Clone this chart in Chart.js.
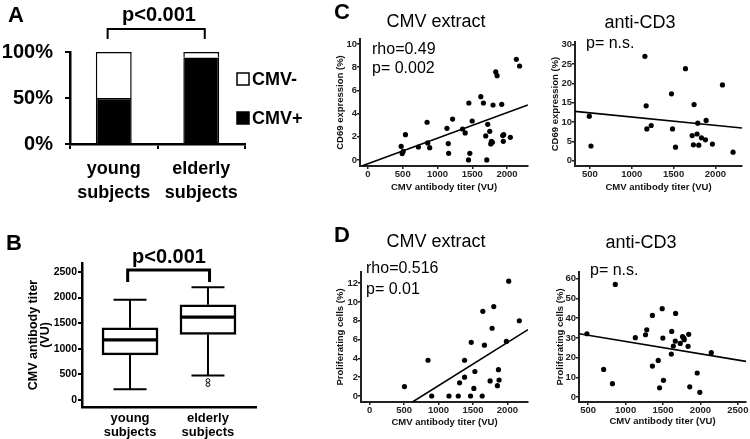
<!DOCTYPE html>
<html>
<head>
<meta charset="utf-8">
<script src="https://cdn.jsdelivr.net/npm/chart.js@4/dist/chart.umd.min.js"></script>
<style>
body{margin:0;background:#fff;width:750px;height:439px;overflow:hidden;position:relative;font-family:"Liberation Sans",Arial,sans-serif;color:#000}
canvas{position:absolute;left:0;top:0}
.c{position:absolute;transform:translate(-50%,-50%);white-space:nowrap;line-height:1}
.l{position:absolute;transform:translateY(-50%);white-space:nowrap;line-height:1}
.big{font-weight:bold;font-size:22px}
.p{font-weight:bold;font-size:20px}
.ttl{font-size:18px}
.r{font-size:16px}
</style>
</head>
<body>
<canvas id="chA" width="750" height="439"></canvas>
<canvas id="chB" width="750" height="439"></canvas>
<canvas id="chC1" width="750" height="439"></canvas>
<canvas id="chC2" width="750" height="439"></canvas>
<canvas id="chD1" width="750" height="439"></canvas>
<canvas id="chD2" width="750" height="439"></canvas>

<div class="c big" style="left:16px;top:15px">A</div>
<div class="c p" style="left:159px;top:14px">p&lt;0.001</div>
<div class="c big" style="left:14px;top:243px">B</div>
<div class="c p" style="left:169px;top:256px">p&lt;0.001</div>
<div class="c big" style="left:342px;top:12px">C</div>
<div class="c ttl" style="left:436px;top:21px">CMV extract</div>
<div class="c ttl" style="left:640px;top:22px">anti-CD3</div>
<div class="l r" style="left:372px;top:49px">rho=0.49</div>
<div class="l r" style="left:372px;top:68px">p= 0.002</div>
<div class="l r" style="left:586px;top:43px">p= n.s.</div>
<div class="c big" style="left:342px;top:235px">D</div>
<div class="c ttl" style="left:436px;top:241px">CMV extract</div>
<div class="c ttl" style="left:641px;top:242px">anti-CD3</div>
<div class="l r" style="left:366px;top:268px">rho=0.516</div>
<div class="l r" style="left:366px;top:289px">p= 0.01</div>
<div class="l r" style="left:590px;top:270px">p= n.s.</div>

<script>
// panel A: serostatus share
const groups = [['young', 'subjects'], ['elderly', 'subjects']];
const cmvPos = [50, 94];
const cmvNeg = [50, 6];
const pctTicks = [0, 50, 100];

// panel B: antibody titer box plots
const titerTicks = [0, 500, 1000, 1500, 2000, 2500];
const boxMin = [210, 480];
const boxQ1 = [880, 1280];
const boxMed = [1175, 1620];
const boxQ3 = [1410, 1860];
const boxMax = [1960, 2200];
const outGroup = [1, 1];
const outTiter = [380, 300];

// panel C: CD69 vs titer
const cExtTiter = [477, 492, 506, 539, 725, 850, 859, 888, 1136, 1155, 1160, 1217, 1360, 1398, 1451, 1446, 1465, 1499, 1623, 1661, 1694, 1709, 1723, 1752, 1766, 1776, 1790, 1799, 1838, 1857, 1924, 1938, 1952, 1947, 2048, 2134, 2181];
const cExtCd69 = [1.18, 0.55, 0.75, 2.18, 1.12, 3.25, 1.47, 1.06, 2.73, 1.41, 0.57, 3.53, 2.67, 2.33, 4.91, 0, 0.57, 3.36, 5.46, 4.91, 2.07, 0, 3.07, 2.47, 1.38, 1.61, 1.52, 4.74, 7.59, 7.27, 4.8, 2.1, 2.18, 1.61, 1.95, 8.68, 8.1];
const cExtFitX = [-80, 2300];
const cExtFitY = [-0.5, 4.74];
const cCd3Titer = [492, 512, 1157, 1172, 1180, 1232, 1475, 1487, 1523, 1642, 1745, 1737, 1722, 1781, 1789, 1801, 1833, 1881, 1889, 1964, 2084, 2211];
const cCd3Cd69 = [11.5, 3.8, 27.0, 14.2, 8.2, 9.1, 17.3, 8.2, 3.5, 23.8, 14.5, 4.1, 6.5, 6.9, 9.7, 4.0, 5.9, 5.4, 10.4, 4.3, 19.6, 2.2];
const cCd3FitX = [321, 2318];
const cCd3FitY = [12.76, 8.45];

// panel D: proliferation vs titer
const dExtTiter = [506, 848, 901, 1152, 1287, 1306, 1378, 1378, 1475, 1465, 1513, 1528, 1634, 1643, 1667, 1749, 1778, 1802, 1855, 1870, 1879, 1985, 2019, 2173];
const dExtProl = [1.0, 3.8, 0, 0, 0, 1.4, 3.8, 2.0, 5.7, 0, 0.8, 2.6, 0, 9.0, 5.4, 1.6, 7.2, 9.5, 1.1, 2.8, 1.7, 5.8, 12.2, 8.0];
const dExtFitX = [622, 2299];
const dExtFitY = [-0.64, 7.05];
const dCd3Titer = [483, 706, 824, 862, 1130, 1266, 1283, 1358, 1358, 1436, 1454, 1489, 1498, 1506, 1664, 1616, 1611, 1638, 1668, 1730, 1761, 1778, 1783, 1835, 1843, 1857, 1957, 1992, 2145];
const dCd3Prol = [32.1, 14.0, 6.8, 57.1, 30.1, 31.6, 34.1, 41.4, 15.7, 18.6, 4.7, 44.8, 29.9, 8.5, 28.4, 33.3, 21.8, 25.9, 42.4, 27.2, 30.6, 29.9, 29.1, 25.7, 31.8, 5.2, 12.2, 2.4, 22.5];
const dCd3FitX = [377, 2609];
const dCd3FitY = [32.1, 18.1];

const FONT = '"Liberation Sans", Arial, sans-serif';
const W = 750, H = 439;

function pad(area, yW, xH) {
  return {left: area.l - yW, top: area.t, right: W - area.r, bottom: H - area.b - xH};
}
function fixX(h) {
  return s => { s.height = h; s.paddingLeft = 0; s.paddingRight = 0; };
}
function fixY(w) {
  return s => { s.width = w; s.paddingTop = 0; s.paddingBottom = 0; };
}
function tickList(vals) {
  return s => { s.ticks = vals.map(v => ({value: v})); };
}
const plain = v => String(v);

const base = {
  responsive: false,
  animation: false,
  events: [],
  plugins: {legend: {display: false}, tooltip: {enabled: false}}
};

// bracket drawn in data units
function bracket(x0, x1, yTop, yLeg, width) {
  return {
    id: 'bracket',
    afterDraw(chart) {
      const {ctx, scales: {x, y}} = chart;
      const px0 = x.getPixelForValue(x0), px1 = x.getPixelForValue(x1);
      const top = y.getPixelForValue(yTop), leg = y.getPixelForValue(yLeg);
      ctx.save();
      ctx.strokeStyle = '#000';
      ctx.lineWidth = width;
      ctx.beginPath();
      ctx.moveTo(px0, leg);
      ctx.lineTo(px0, top);
      ctx.lineTo(px1, top);
      ctx.lineTo(px1, leg);
      ctx.stroke();
      ctx.restore();
    }
  };
}

// ---- A
const legendA = {
  id: 'legendA',
  afterDraw(chart) {
    const ctx = chart.ctx;
    const sets = chart.data.datasets.slice().reverse();
    const x0 = chart.chartArea.right - 8;
    const rows = [79, 118];
    ctx.save();
    ctx.font = 'bold 18px ' + FONT;
    ctx.textBaseline = 'middle';
    sets.forEach((ds, i) => {
      ctx.fillStyle = ds.backgroundColor;
      ctx.strokeStyle = '#000';
      ctx.lineWidth = 1.5;
      ctx.fillRect(x0, rows[i] - 6, 12, 12);
      ctx.strokeRect(x0, rows[i] - 6, 12, 12);
      ctx.fillStyle = '#000';
      ctx.fillText(ds.label, x0 + 15, rows[i] + 1);
    });
    ctx.restore();
  }
};

const areaA = {l: 70, r: 245, t: 52, b: 144};
new Chart(document.getElementById('chA'), {
  type: 'bar',
  data: {
    labels: groups,
    datasets: [
      {label: 'CMV+', data: cmvPos, backgroundColor: '#000', borderColor: '#000', borderWidth: 1.5},
      {label: 'CMV-', data: cmvNeg, backgroundColor: '#fff', borderColor: '#000', borderWidth: 1.5}
    ]
  },
  options: Object.assign({}, base, {
    layout: {padding: pad(areaA, 70, H - areaA.b)},
    datasets: {bar: {barPercentage: 0.41, categoryPercentage: 1}},
    scales: {
      x: {
        stacked: true,
        afterFit: fixX(H - areaA.b),
        grid: {offset: true, drawOnChartArea: false, tickLength: 5, color: '#000', lineWidth: 2},
        border: {color: '#000', width: 2.5},
        ticks: {font: {family: FONT, size: 18, weight: 'bold', lineHeight: 1.28}, color: '#000', padding: 9}
      },
      y: {
        stacked: true, min: 0, max: 100,
        afterBuildTicks: tickList(pctTicks),
        afterFit: fixY(70),
        grid: {drawOnChartArea: false, tickLength: 5, color: '#000', lineWidth: 2},
        border: {color: '#000', width: 2.5},
        ticks: {font: {family: FONT, size: 20, weight: 'bold'}, color: '#000', padding: 12, callback: v => v + '%'}
      }
    }
  }),
  plugins: [legendA, bracket(-0.07, 1.04, 125, 114, 2)]
});

// ---- B
const whiskers = {
  id: 'whiskers',
  afterDatasetsDraw(chart) {
    const {ctx, scales: {x, y}} = chart;
    ctx.save();
    ctx.strokeStyle = '#000';
    boxMed.forEach((m, i) => {
      const cx = x.getPixelForValue(i);
      ctx.lineWidth = 2;
      ctx.beginPath();
      ctx.moveTo(cx, y.getPixelForValue(boxQ3[i]));
      ctx.lineTo(cx, y.getPixelForValue(boxMax[i]));
      ctx.moveTo(cx, y.getPixelForValue(boxQ1[i]));
      ctx.lineTo(cx, y.getPixelForValue(boxMin[i]));
      ctx.moveTo(cx - 16.5, y.getPixelForValue(boxMax[i]));
      ctx.lineTo(cx + 16.5, y.getPixelForValue(boxMax[i]));
      ctx.moveTo(cx - 16.5, y.getPixelForValue(boxMin[i]));
      ctx.lineTo(cx + 16.5, y.getPixelForValue(boxMin[i]));
      ctx.stroke();
      ctx.lineWidth = 3.2;
      ctx.beginPath();
      ctx.moveTo(cx - 28, y.getPixelForValue(m));
      ctx.lineTo(cx + 28, y.getPixelForValue(m));
      ctx.stroke();
    });
    ctx.restore();
  }
};

const areaB = {l: 82, r: 256, t: 263, b: 407};
new Chart(document.getElementById('chB'), {
  type: 'bar',
  data: {
    datasets: [
      {
        data: boxQ1.map((q, i) => ({x: i, y: [q, boxQ3[i]]})),
        backgroundColor: '#fff', borderColor: '#000', borderWidth: 2.5,
        borderSkipped: false, barThickness: 56
      },
      {
        type: 'scatter',
        data: outGroup.map((g, i) => ({x: g, y: outTiter[i]})),
        pointRadius: 1.9, pointBackgroundColor: '#fff', pointBorderColor: '#000', pointBorderWidth: 1
      }
    ]
  },
  options: Object.assign({}, base, {
    layout: {padding: pad(areaB, 55, H - areaB.b)},
    scales: {
      x: {
        type: 'linear', min: -0.616, max: 1.616, offset: false,
        afterBuildTicks: tickList([0, 1]),
        afterFit: fixX(H - areaB.b),
        grid: {display: false, drawTicks: false},
        border: {color: '#000', width: 2.5},
        ticks: {font: {family: FONT, size: 13, weight: 'bold', lineHeight: 1.08}, color: '#000', padding: 4,
                callback: v => groups[v]}
      },
      y: {
        min: -137, max: 2676,
        afterBuildTicks: tickList(titerTicks),
        afterFit: fixY(55),
        grid: {drawOnChartArea: false, tickLength: 4, color: '#000', lineWidth: 2},
        border: {color: '#000', width: 2.5},
        ticks: {font: {family: FONT, size: 10.5, weight: 'bold'}, color: '#000', padding: 1, callback: plain},
        title: {display: true, text: ['CMV antibody titer', '(VU)'], padding: 0,
                font: {family: FONT, size: 12.5, weight: 'bold', lineHeight: 1.0}, color: '#000'}
      }
    }
  }),
  plugins: [whiskers, bracket(-0.03, 1.02, 2539, 2305, 3)]
});

// ---- C / D scatters
function scatter(id, area, xs, ys, fx, fy, xr, yr, xt, yt, yTitle, yW, xH) {
  const tickFont = {family: FONT, size: 9.5, weight: 'bold', lineHeight: 1.2};
  return new Chart(document.getElementById(id), {
    type: 'scatter',
    data: {
      datasets: [
        {data: xs.map((x, i) => ({x: x, y: ys[i]})), pointRadius: 2.6, pointBackgroundColor: '#000', pointBorderWidth: 0},
        {type: 'line', data: fx.map((x, i) => ({x: x, y: fy[i]})), borderColor: '#000', borderWidth: 1.6, pointRadius: 0, fill: false}
      ]
    },
    options: Object.assign({}, base, {
      layout: {padding: pad(area, yW, xH)},
      scales: {
        x: {
          type: 'linear', min: xr[0], max: xr[1],
          afterBuildTicks: tickList(xt),
          afterFit: fixX(xH),
          grid: {drawOnChartArea: false, tickLength: 3, color: '#222', lineWidth: 1.5},
          border: {color: '#222', width: 2},
          ticks: {font: tickFont, color: '#222', padding: 0, callback: plain},
          title: {display: true, text: 'CMV antibody titer (VU)', padding: 0, font: tickFont, color: '#111'}
        },
        y: {
          min: yr[0], max: yr[1],
          afterBuildTicks: tickList(yt),
          afterFit: fixY(yW),
          grid: {drawOnChartArea: false, tickLength: 3, color: '#222', lineWidth: 1.5},
          border: {color: '#222', width: 2},
          ticks: {font: tickFont, color: '#222', padding: 0, callback: plain},
          title: {display: true, text: yTitle, padding: 0, font: tickFont, color: '#111'}
        }
      }
    })
  });
}

scatter('chC1', {l: 360, r: 528, t: 39, b: 166}, cExtTiter, cExtCd69, cExtFitX, cExtFitY,
  [-115, 2302], [-0.52, 10.43], [0, 500, 1000, 1500, 2000], [0, 2, 4, 6, 8, 10], 'CD69 expression (%)', 25.7, 27.4);
scatter('chC2', {l: 575, r: 742, t: 42, b: 166}, cCd3Titer, cCd3Cd69, cCd3FitX, cCd3FitY,
  [321, 2318], [-1.38, 30.7], [500, 1000, 1500, 2000], [0, 5, 10, 15, 20, 25, 30], 'CD69 expression (%)', 25.7, 27.4);
scatter('chD1', {l: 361, r: 528, t: 272, b: 402}, dExtTiter, dExtProl, dExtFitX, dExtFitY,
  [-125, 2299], [-0.64, 13.18], [0, 500, 1000, 1500, 2000], [0, 2, 4, 6, 8, 10, 12], 'Proliferating cells (%)', 26.7, 26.4);
scatter('chD2', {l: 579, r: 749, t: 272, b: 402}, dCd3Titer, dCd3Prol, dCd3FitX, dCd3FitY,
  [377, 2609], [-2.5, 63.4], [500, 1000, 1500, 2000, 2500], [0, 10, 20, 30, 40, 50, 60], 'Proliferating cells (%)', 24.7, 25.4);
</script>
</body>
</html>
